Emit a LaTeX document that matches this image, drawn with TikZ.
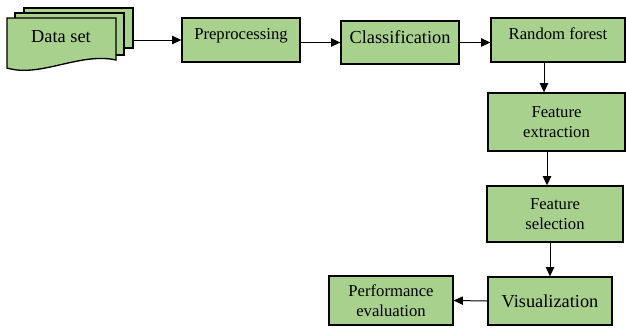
\documentclass[tikz,border=0pt]{standalone}
\usepackage{fontspec}
\setmainfont{Liberation Serif}
\usetikzlibrary{arrows.meta}
\definecolor{boxgreen}{HTML}{A9D18E}

\begin{document}
\begin{tikzpicture}[x=0.6pt, y=-0.6pt,
    box/.style={draw, line width=0.8pt, fill=boxgreen, align=center, inner sep=0pt,
        font=\fontsize{10}{12}\selectfont},
    toprow/.style={text height=7pt, text depth=8pt},
    flow/.style={-{Triangle[length=5.5pt,width=5pt]}, line width=0.6pt}]
    \useasboundingbox (0,0) rectangle (626,327);

    % Data set (stacked sheets)
    \node[box, minimum width=65.4pt, minimum height=24pt] (ds3) at (78.5,28) {};
    \node[box, minimum width=65.4pt, minimum height=25.2pt] (ds2) at (69.5,34) {};
    \draw[line width=0.8pt, fill=boxgreen] (7,18) -- (116,18) -- (116,60)
        .. controls (80,52) and (40,78) .. (7,68) -- cycle;
    \node[font=\fontsize{11}{13}\selectfont] (ds) at (61,37) {Data set};

    % Top row
    \node[box, toprow, minimum width=70.8pt, minimum height=26.4pt] (prep) at (241,40) {Preprocessing};
    \node[box, minimum width=70.8pt, minimum height=25.8pt, text height=7pt, text depth=6pt,
        font=\fontsize{11}{13}\selectfont] (class) at (400,42.5) {Classification};
    \node[box, toprow, minimum width=80.4pt, minimum height=26.4pt] (rf) at (558,40) {Random forest};

    % Right column
    \node[box, minimum width=82.2pt, minimum height=34.8pt] (fe) at (556.5,122) {Feature\\extraction};
    \node[box, minimum width=81.6pt, minimum height=33.6pt] (fs) at (555,214) {Feature\\selection};
    \node[box, minimum width=74.4pt, minimum height=28.8pt,
        font=\fontsize{11}{13}\selectfont] (vis) at (550,301) {Visualization};
    \node[box, minimum width=74.4pt, minimum height=29.4pt] (perf) at (391,300.5) {Performance\\evaluation};

    % Arrows
    \coordinate (c1) at (544,0);
    \coordinate (c2) at (547,0);
    \draw[flow] (ds3.east |- prep.west) -- (prep.west);
    \draw[flow] (prep.east |- class.west) -- (class.west);
    \draw[flow] (class.east) -- (rf.west |- class.east);
    \draw[flow] (rf.south -| c1) -- (fe.north -| c1);
    \draw[flow] (fe.south -| c2) -- (fs.north -| c2);
    \draw[flow] (fs.south -| vis.north) -- (vis.north);
    \draw[flow] (vis.west) -- (perf.east);
\end{tikzpicture}
\end{document}
